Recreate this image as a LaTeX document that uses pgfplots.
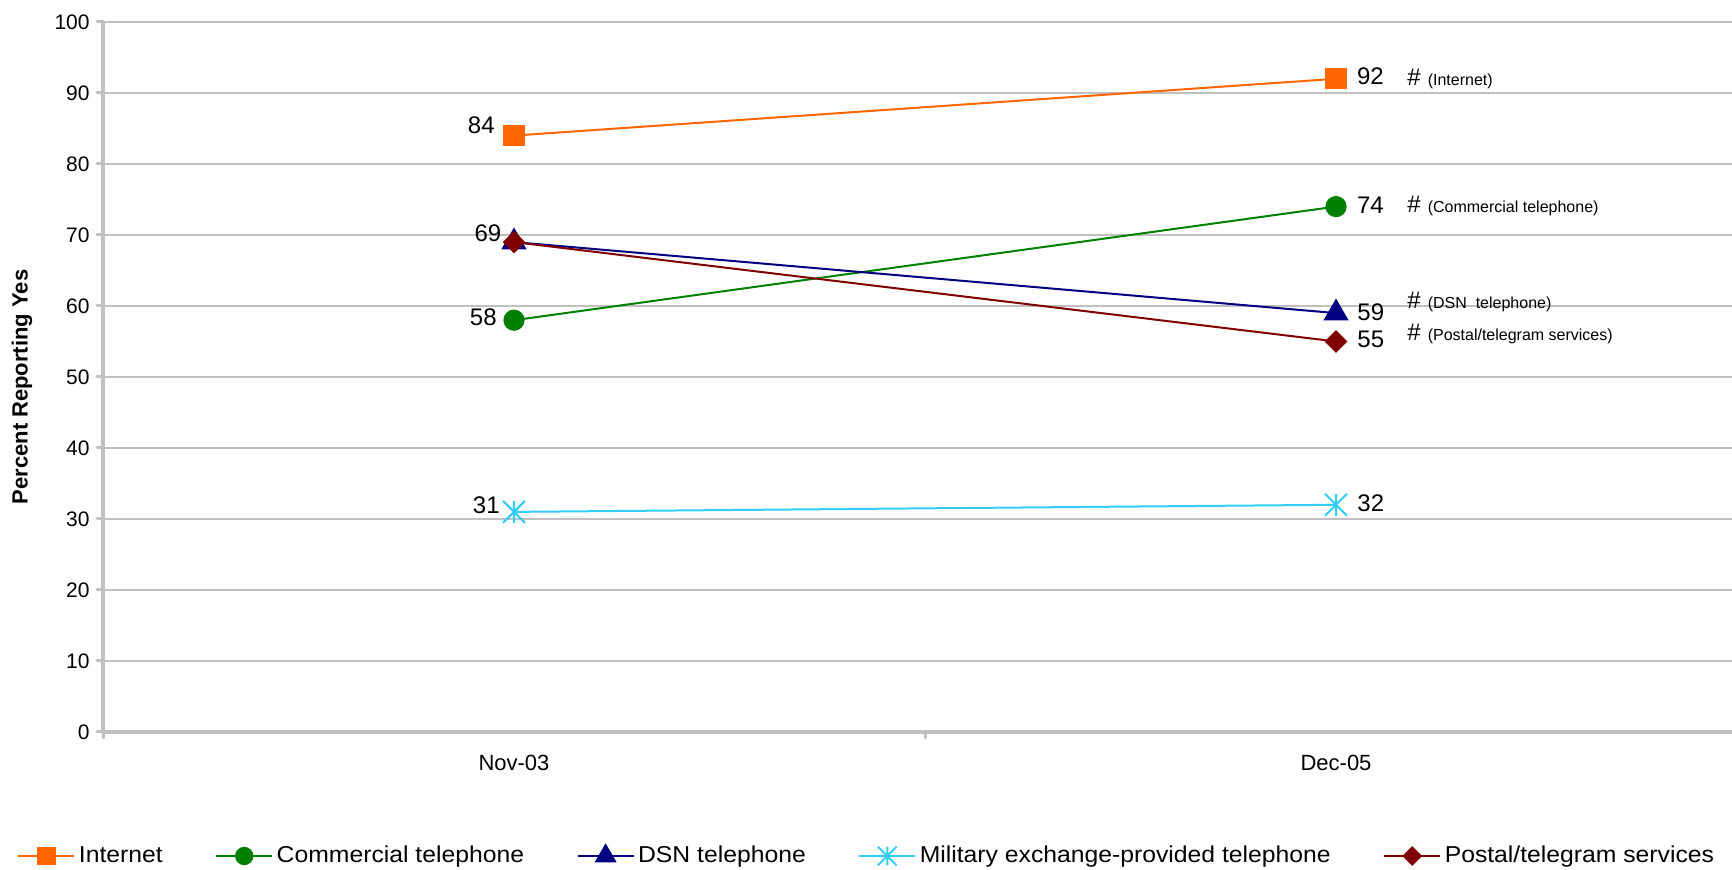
\documentclass[border=0pt]{standalone}
\usepackage{pgfplots}
\pgfplotsset{compat=1.18}
\usepackage{fontspec}
\setmainfont{Liberation Sans}
\newfontfamily\legfont[FakeStretch=1.075]{Liberation Sans}
\definecolor{cInternet}{HTML}{FF6600}
\definecolor{cComm}{HTML}{008000}
\definecolor{cDSN}{HTML}{000080}
\definecolor{cMil}{HTML}{33CCFF}
\definecolor{cPostal}{HTML}{800000}
\definecolor{axgray}{HTML}{C0C0C0}
\pgfdeclareplotmark{xstar}{%
  \pgfpathmoveto{\pgfqpoint{0pt}{\pgfplotmarksize}}%
  \pgfpathlineto{\pgfqpoint{0pt}{-\pgfplotmarksize}}%
  \pgfpathmoveto{\pgfqpoint{-\pgfplotmarksize}{-\pgfplotmarksize}}%
  \pgfpathlineto{\pgfqpoint{\pgfplotmarksize}{\pgfplotmarksize}}%
  \pgfpathmoveto{\pgfqpoint{-\pgfplotmarksize}{\pgfplotmarksize}}%
  \pgfpathlineto{\pgfqpoint{\pgfplotmarksize}{-\pgfplotmarksize}}%
  \pgfusepathqstroke}
\begin{document}
\begin{tikzpicture}
\useasboundingbox (0,0) rectangle (866pt,435pt);
\begin{axis}[
  at={(51.5pt,69pt)}, anchor=south west,
  scale only axis, width=822pt, height=355pt,
  xmin=-0.5, xmax=1.5, ymin=0, ymax=100,
  axis x line*=bottom, axis y line*=left,
  axis line style={-, draw=axgray, line width=2pt, line cap=round},
  ytick={0,10,...,100},
  ymajorgrids, major grid style={axgray, line width=0.6pt},
  xtick={-0.5,0.5,1.5}, xticklabels={},
  extra x ticks={0,1}, extra x tick labels={Nov-03,Dec-05},
  extra x tick style={major tick length=0pt, grid=none},
  tick align=outside, major tick length=3pt,
  tick style={axgray, line width=1.5pt, line cap=round},
  yticklabel style={font=\fontsize{10.5}{12}\selectfont, inner sep=0pt, xshift=-3.5pt},
  xticklabel style={font=\fontsize{11}{13}\selectfont, yshift=-8pt},
  /pgf/number format/assume math mode=true,
  clip=false,
  legend columns=-1,
  legend style={at={(0,0)}, anchor=west, xshift=-43pt, yshift=-62pt,
    draw=none, fill=none, inner sep=0pt,
    font=\legfont\fontsize{11.5}{13}\selectfont,
    nodes={inner sep=1.75pt},
    /tikz/every even column/.append style={column sep=24.5pt}},
  legend image code/.code={\draw[mark repeat=2,mark phase=2, every mark/.append style={scale=0.85}] plot coordinates {(0pt,0pt) (14pt,0pt) (28pt,0pt)};},
]
\addplot[cInternet, line width=1pt, mark=square*, mark size=4.8pt] coordinates {(0,84) (1,92)};
\addlegendentry{Internet}
\addplot[cComm, line width=1pt, mark=*, mark size=4.8pt] coordinates {(0,58) (1,74)};
\addlegendentry{Commercial telephone}
\addplot[cDSN, line width=1pt, mark=triangle*, mark size=6.3pt] coordinates {(0,69) (1,59)};
\addlegendentry{DSN telephone}
\addplot[cMil, line width=1pt, mark=xstar, mark size=5.5pt] coordinates {(0,31) (1,32)};
\addlegendentry{Military exchange-provided telephone}
\addplot[cPostal, line width=1pt, mark=square*, mark size=3.5pt, mark options={rotate=45}] coordinates {(0,69) (1,55)};
\addlegendentry{Postal/telegram services}

\tikzset{lab/.style={inner sep=0pt, font=\fontsize{12}{14}\selectfont}}
\node[lab, anchor=east, xshift=-9.5pt, yshift=5pt] at (axis cs:0,84) {84};
\node[lab, anchor=east, xshift=-6.2pt, yshift=4.5pt] at (axis cs:0,69) {69};
\node[lab, anchor=east, xshift=-8.5pt, yshift=1.5pt] at (axis cs:0,58) {58};
\node[lab, anchor=east, xshift=-7pt, yshift=3.5pt] at (axis cs:0,31) {31};
\node[lab, anchor=west, xshift=10.3pt, yshift=1.3pt] at (axis cs:1,92) {92};
\node[lab, anchor=west, xshift=10.3pt, yshift=0.5pt] at (axis cs:1,74) {74};
\node[lab, anchor=west, xshift=10.5pt, yshift=0.5pt] at (axis cs:1,59) {59};
\node[lab, anchor=west, xshift=10.5pt, yshift=1pt] at (axis cs:1,55) {55};
\node[lab, anchor=west, xshift=10.5pt, yshift=1pt] at (axis cs:1,32) {32};

\tikzset{ann/.style={inner sep=0pt, anchor=base west, font=\fontsize{12}{14}\selectfont}}
\node[ann] at (axis cs:1.0864,91.1) {\#\hspace{3.5pt}{\fontsize{8}{10}\selectfont (Internet)}};
\node[ann] at (axis cs:1.0864,73.1) {\#\hspace{3.5pt}{\fontsize{8}{10}\selectfont (Commercial telephone)}};
\node[ann] at (axis cs:1.0864,59.7) {\#\hspace{3.5pt}{\fontsize{8}{10}\selectfont (DSN\ \ telephone)}};
\node[ann] at (axis cs:1.0864,55.07) {\#\hspace{3.5pt}{\fontsize{8}{10}\selectfont (Postal/telegram services)}};

\path (rel axis cs:0,0.5) ++(-40.5pt,-5pt) node[rotate=90, font=\fontsize{11}{13}\selectfont\bfseries] {Percent Reporting Yes};
\end{axis}
\end{tikzpicture}
\end{document}
